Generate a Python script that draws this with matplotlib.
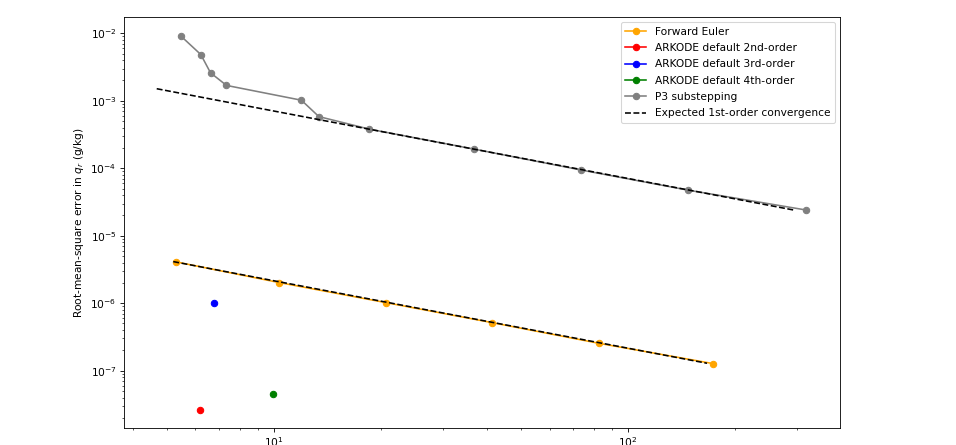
import numpy as np
import matplotlib
matplotlib.use("Agg")
import matplotlib.pyplot as plt

# Forward Euler
fe_x = [5.30, 10.36, 20.7, 41.3, 82.8, 174.1]
fe_y = [4.09e-6, 2.02e-6, 1.02e-6, 5.15e-7, 2.54e-7, 1.27e-7]

# ARKODE defaults (single points)
ark2_x = [6.20]
ark2_y = [2.64e-8]
ark3_x = [6.79]
ark3_y = [1.00e-6]
ark4_x = [9.97]
ark4_y = [4.5e-8]

# P3 substepping
p3_x = [5.475, 6.22, 6.625, 7.35, 11.96, 13.4, 18.6, 36.8, 73.8, 147.9, 318.6]
p3_y = [9.03e-3, 4.85e-3, 2.60e-3, 1.69e-3, 1.02e-3, 5.83e-4, 3.80e-4,
        1.92e-4, 9.4e-5, 4.73e-5, 2.4e-5]

# Expected 1st-order convergence reference lines (endpoints)
ref_hi_x = [4.67, 294.8]
ref_hi_C = 7.05e-3
ref_lo_x = [5.20, 167.0]
ref_lo_C = 2.15e-5

DPI = 76.5
fig = plt.figure(figsize=(956 / DPI, 445 / DPI), dpi=DPI)
ax = fig.add_axes([124 / 956, 1 - 428 / 445, (840 - 124) / 956, (428 - 17) / 445])

ax.loglog(fe_x, fe_y, '-o', color='orange', label='Forward Euler')
ax.loglog(ark2_x, ark2_y, '-o', color='red', label='ARKODE default 2nd-order')
ax.loglog(ark3_x, ark3_y, '-o', color='blue', label='ARKODE default 3rd-order')
ax.loglog(ark4_x, ark4_y, '-o', color='green', label='ARKODE default 4th-order')
ax.loglog(p3_x, p3_y, '-o', color='gray', label='P3 substepping')

hx = np.array(ref_hi_x)
lx = np.array(ref_lo_x)
ax.loglog(hx, ref_hi_C / hx, 'k--', label='Expected 1st-order convergence')
ax.loglog(lx, ref_lo_C / lx, 'k--')

ax.set_xlim(10 ** 0.577, 10 ** 2.598)
ax.set_ylim(10 ** -7.85, 10 ** -1.758)
ax.set_ylabel('Root-mean-square error in $q_r$ (g/kg)')
ax.legend(loc='upper right', labelspacing=0.6)

fig.savefig('out.png', dpi=DPI)
